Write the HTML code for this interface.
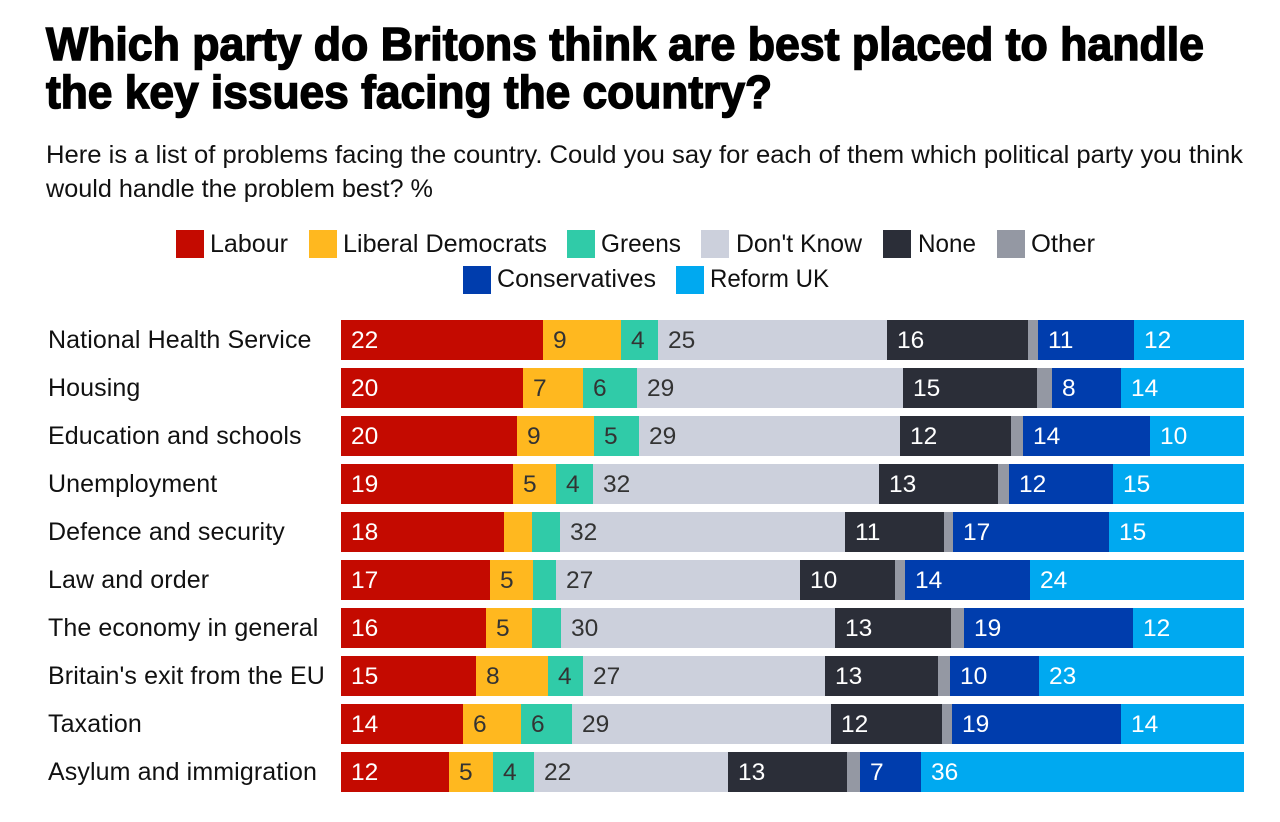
<!DOCTYPE html>
<html lang="en">
<head>
<meta charset="utf-8">
<title>Which party do Britons think are best placed to handle the key issues facing the country?</title>
<style>
  html, body { margin: 0; padding: 0; background: #fff; }
  body { width: 1280px; height: 822px; overflow: hidden; }
  svg { display: block; font-family: "Liberation Sans", sans-serif; }
  .title { font-size: 46px; font-weight: 700; fill: #000; stroke: #000; stroke-width: 1.5px; }
  .sub { font-size: 25px; fill: #111; }
  .leg { font-size: 25px; fill: #111; }
  .cat { font-size: 25px; letter-spacing: 0.1px; fill: #111; }
  .val { font-size: 24.5px; }
</style>
</head>
<body>
<svg id="chart" width="1280" height="822" viewBox="0 0 1280 822" xmlns="http://www.w3.org/2000/svg">
  <rect x="0" y="0" width="1280" height="822" fill="#ffffff"/>
  <g>
    <text class="title" x="46" y="60" textLength="1158" lengthAdjust="spacingAndGlyphs">Which party do Britons think are best placed to handle</text>
    <text class="title" x="46" y="108" textLength="726" lengthAdjust="spacingAndGlyphs">the key issues facing the country?</text>
  </g>
  <g>
    <text class="sub" x="46" y="163" textLength="1197" lengthAdjust="spacingAndGlyphs">Here is a list of problems facing the country. Could you say for each of them which political party you think</text>
    <text class="sub" x="46" y="197" textLength="387" lengthAdjust="spacingAndGlyphs">would handle the problem best? %</text>
  </g>
  <g>
    <g>
      <rect x="176" y="230" width="28" height="28" fill="#c40a00"/>
      <text class="leg" x="210" y="252" textLength="78" lengthAdjust="spacingAndGlyphs">Labour</text>
    </g>
    <g>
      <rect x="309" y="230" width="28" height="28" fill="#ffb81f"/>
      <text class="leg" x="343" y="252" textLength="204" lengthAdjust="spacingAndGlyphs">Liberal Democrats</text>
    </g>
    <g>
      <rect x="567" y="230" width="28" height="28" fill="#30cba8"/>
      <text class="leg" x="601" y="252" textLength="80" lengthAdjust="spacingAndGlyphs">Greens</text>
    </g>
    <g>
      <rect x="701" y="230" width="28" height="28" fill="#ccd0dc"/>
      <text class="leg" x="736" y="252" textLength="126" lengthAdjust="spacingAndGlyphs">Don't Know</text>
    </g>
    <g>
      <rect x="883" y="230" width="28" height="28" fill="#2b2e38"/>
      <text class="leg" x="918" y="252" textLength="58" lengthAdjust="spacingAndGlyphs">None</text>
    </g>
    <g>
      <rect x="997" y="230" width="28" height="28" fill="#9498a3"/>
      <text class="leg" x="1031" y="252" textLength="64" lengthAdjust="spacingAndGlyphs">Other</text>
    </g>
    <g>
      <rect x="463" y="266" width="28" height="28" fill="#003dad"/>
      <text class="leg" x="497" y="287" textLength="159" lengthAdjust="spacingAndGlyphs">Conservatives</text>
    </g>
    <g>
      <rect x="676" y="266" width="28" height="28" fill="#00a9f0"/>
      <text class="leg" x="710" y="287" textLength="119" lengthAdjust="spacingAndGlyphs">Reform UK</text>
    </g>
  </g>
  <g id="rows"></g>
</svg>
<script>
const categories = ["National Health Service", "Housing", "Education and schools", "Unemployment", "Defence and security", "Law and order", "The economy in general", "Britain's exit from the EU", "Taxation", "Asylum and immigration"];
const labour = [22.4, 20.2, 19.5, 19.0, 18.1, 16.5, 16.1, 15.0, 13.5, 12.0];
const liberalDemocrats = [8.6, 6.6, 8.5, 4.8, 3.1, 4.8, 5.1, 7.95, 6.4, 4.85];
const greens = [4.1, 6.0, 5.0, 4.1, 3.1, 2.5, 3.2, 3.85, 5.7, 4.49];
const dontKnow = [25.4, 29.4, 28.9, 31.7, 31.6, 27.0, 30.3, 26.8, 28.7, 21.5];
const none = [15.6, 14.9, 12.3, 13.2, 11.0, 10.49, 12.8, 12.5, 12.25, 13.2];
const other = [1.1, 1.6, 1.3, 1.2, 1.0, 1.2, 1.5, 1.3, 1.1, 1.4];
const conservatives = [10.6, 7.7, 14.1, 11.5, 17.3, 13.8, 18.7, 9.9, 18.7, 6.8];
const reformUk = [12.2, 13.6, 10.4, 14.5, 15.0, 23.7, 12.3, 22.7, 13.65, 35.76];

const seriesNames = ["labour", "liberal-democrats", "greens", "dont-know", "none", "other", "conservatives", "reform-uk"];
const seriesValues = [labour, liberalDemocrats, greens, dontKnow, none, other, conservatives, reformUk];
const seriesColors = ["#c40a00", "#ffb81f", "#30cba8", "#ccd0dc", "#2b2e38", "#9498a3", "#003dad", "#00a9f0"];
const seriesTextColors = ["#ffffff", "#333333", "#333333", "#333333", "#ffffff", "#ffffff", "#ffffff", "#ffffff"];

const SVG_NS = "http://www.w3.org/2000/svg";
const plotLeft = 341, plotRight = 1244, firstRowTop = 320, rowStep = 48, barHeight = 40;
const labelThreshold = 3.5;

function xScale(share) {
  return Math.round(plotLeft + (share / 100) * (plotRight - plotLeft));
}
function yScale(rowIndex) {
  return firstRowTop + rowIndex * rowStep;
}

const rowsGroup = document.getElementById("rows");
categories.forEach(function (category, r) {
  const slug = category.toLowerCase().replace(/[^a-z]+/g, "-");
  const top = yScale(r);

  const row = document.createElementNS(SVG_NS, "g");
  
  
  rowsGroup.appendChild(row);

  const catLabel = document.createElementNS(SVG_NS, "text");
  
  
  catLabel.setAttribute("class", "cat");
  catLabel.setAttribute("x", 48);
  catLabel.setAttribute("y", top + 28);
  catLabel.textContent = category;
  row.appendChild(catLabel);

  const total = seriesValues.reduce(function (sum, s) { return sum + s[r]; }, 0);
  let cumulative = 0;
  seriesValues.forEach(function (values, s) {
    const value = values[r];
    const x0 = xScale(cumulative / total * 100);
    cumulative += value;
    const x1 = xScale(cumulative / total * 100);

    const bar = document.createElementNS(SVG_NS, "rect");
    
    
    bar.setAttribute("x", x0);
    bar.setAttribute("y", top);
    bar.setAttribute("width", x1 - x0);
    bar.setAttribute("height", barHeight);
    bar.setAttribute("fill", seriesColors[s]);
    row.appendChild(bar);

    if (value >= labelThreshold) {
      const valueLabel = document.createElementNS(SVG_NS, "text");
      
      
      valueLabel.setAttribute("class", "val");
      valueLabel.setAttribute("x", x0 + 10);
      valueLabel.setAttribute("y", top + 28);
      valueLabel.setAttribute("fill", seriesTextColors[s]);
      valueLabel.textContent = String(Math.round(value));
      row.appendChild(valueLabel);
    }
  });
});
</script>
</body>
</html>
